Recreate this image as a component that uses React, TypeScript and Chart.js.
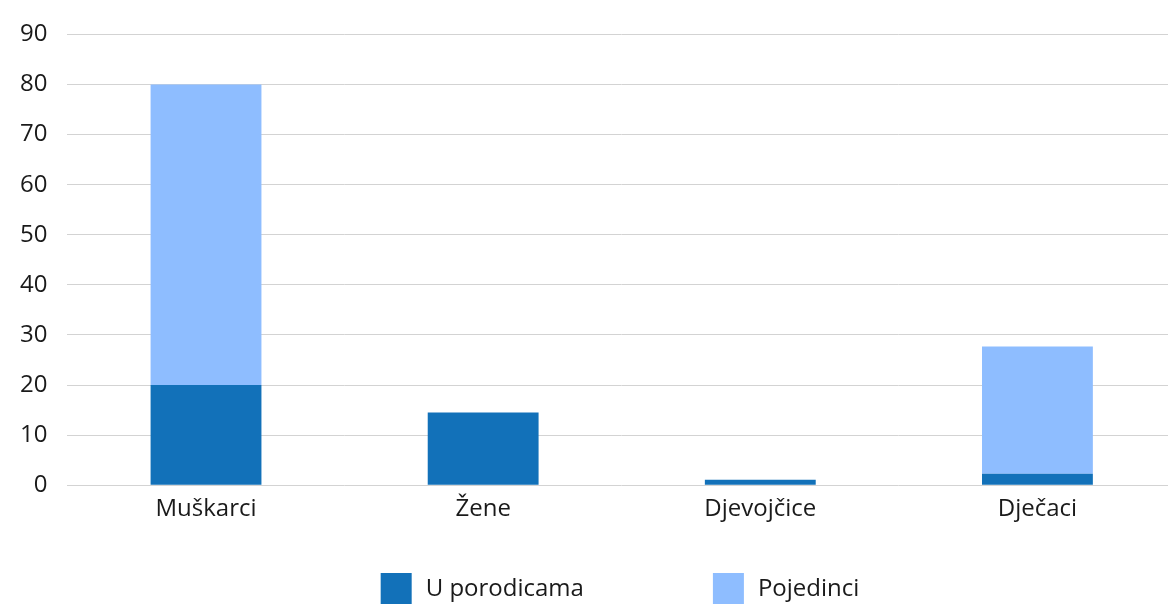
import React, { useEffect, useRef } from "react";
import { Chart, registerables } from "chart.js";

Chart.register(...registerables);

const categories = ["Muškarci", "Žene", "Djevojčice", "Dječaci"];
const uPorodicama = [20, 14.5, 1.1, 2.3];
const pojedinci = [60, 0, 0, 25.4];
const seriesNames = ["U porodicama", "Pojedinci"];
const seriesColors = ["#1271B9", "#8EBDFF"];
const yTicks = [0, 10, 20, 30, 40, 50, 60, 70, 80, 90];

const FONT = "'Open Sans', sans-serif";
const FONT_SIZE = 24;
const TEXT_COLOR = "#1a1a1a";

const bottomLegend = {
  id: "bottomLegend",
  afterDraw(chart: any) {
    const ctx = chart.ctx as CanvasRenderingContext2D;
    const box = 31;
    const gap = 14;
    const itemGap = 129;
    ctx.save();
    ctx.font = `${FONT_SIZE}px ${FONT}`;
    ctx.textBaseline = "middle";
    ctx.textAlign = "left";
    const items = chart.data.datasets.map((ds: any) => ({
      label: ds.label as string,
      color: ds.backgroundColor as string,
      w: box + gap + ctx.measureText(ds.label).width,
    }));
    const total = items.reduce((s: number, it: any) => s + it.w, 0) + itemGap * (items.length - 1);
    let x = 620 - total / 2;
    const top = chart.height - 33;
    for (const it of items) {
      ctx.fillStyle = it.color;
      ctx.fillRect(x, top, box, box);
      ctx.fillStyle = TEXT_COLOR;
      ctx.fillText(it.label, x + box + gap, top + box / 2 + 1);
      x += it.w + itemGap;
    }
    ctx.restore();
  },
};

export default function App() {
  const ref = useRef<HTMLCanvasElement | null>(null);
  useEffect(() => {
    document.body.style.margin = "0";
    if (!ref.current) return;
    const chart = new Chart(ref.current, {
      type: "bar",
      data: {
        labels: categories,
        datasets: [
          { label: seriesNames[0], data: uPorodicama, backgroundColor: seriesColors[0], borderWidth: 0 },
          { label: seriesNames[1], data: pojedinci, backgroundColor: seriesColors[1], borderWidth: 0 },
        ],
      },
      options: {
        animation: false,
        responsive: false,
        maintainAspectRatio: false,
        layout: { padding: { top: 9, right: 0, left: 0, bottom: 72 } },
        datasets: { bar: { categoryPercentage: 1, barPercentage: 0.4 } },
        plugins: {
          tooltip: { enabled: false },
          legend: { display: false },
        },
        scales: {
          x: {
            stacked: true,
            grid: { display: false, drawTicks: false },
            border: { display: false },
            ticks: { color: TEXT_COLOR, font: { family: FONT, size: FONT_SIZE }, padding: 10 },
          },
          y: {
            stacked: true,
            min: 0,
            max: 90,
            afterBuildTicks: (axis: any) => {
              axis.ticks = yTicks.map((v) => ({ value: v }));
            },
            grid: { color: "#D3D3D3", lineWidth: 1, drawTicks: false },
            border: { display: false },
            ticks: { color: TEXT_COLOR, font: { family: FONT, size: FONT_SIZE }, padding: 20 },
          },
        },
      },
      plugins: [bottomLegend],
    });
    return () => chart.destroy();
  }, []);
  return (
    <div style={{ width: 1168, height: 606, overflow: "hidden" }}>
      <canvas ref={ref} width={1176} height={606} style={{ display: "block" }} />
    </div>
  );
}
